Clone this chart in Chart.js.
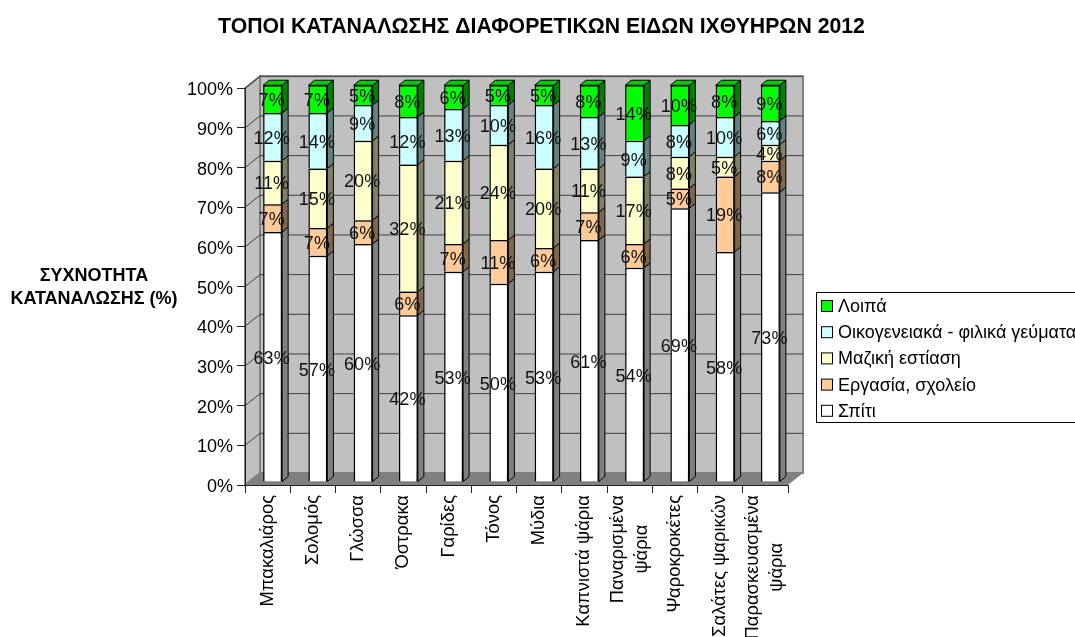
<!DOCTYPE html>
<html lang="el">
<head>
<meta charset="utf-8">
<title>Τόποι κατανάλωσης</title>
<script src="https://cdn.jsdelivr.net/npm/chart.js@4"></script>
<style>
    body { margin: 0; background: #fff; overflow: hidden; }
    canvas { display: block; }
</style>
</head>
<body>
<canvas id="chart" width="1075" height="637"></canvas>
<script>
// --- Data ---
const categories = [
    ['Μπακαλιάρος'], ['Σολομός'], ['Γλώσσα'], ['Όστρακα'], ['Γαρίδες'], ['Τόνος'], ['Μύδια'],
    ['Καπνιστά ψάρια'], ['Παναρισμένα', 'ψάρια'], ['Ψαροκροκέτες'], ['Σαλάτες ψαρικών'], ['Παρασκευασμένα', 'ψάρια']
];
const spiti = [63, 57, 60, 42, 53, 50, 53, 61, 54, 69, 58, 73];
const ergasia = [7, 7, 6, 6, 7, 11, 6, 7, 6, 5, 19, 8];
const mazikiEstiasi = [11, 15, 20, 32, 21, 24, 20, 11, 17, 8, 5, 4];
const oikogeneiaka = [12, 14, 9, 12, 13, 10, 16, 13, 9, 8, 10, 6];
const loipa = [7, 7, 5, 8, 6, 5, 5, 8, 14, 10, 8, 9];

const chartTitle = 'ΤΟΠΟΙ ΚΑΤΑΝΑΛΩΣΗΣ ΔΙΑΦΟΡΕΤΙΚΩΝ ΕΙΔΩΝ ΙΧΘΥΗΡΩΝ 2012';
const yTitleLines = ['ΣΥΧΝΟΤΗΤΑ', 'ΚΑΤΑΝΑΛΩΣΗΣ (%)'];

// --- Look ---
const FONT = '"Liberation Sans", Arial, sans-serif';
const WALL = { dx: 15, dy: -12 };   // depth of the back wall
const BAR = { dx: 5, dy: -3 };      // bars stand a little behind the front edge
const SIDE = { dx: 6, dy: -5 };     // depth of a bar

function series(label, data, color, side, top) {
    return { label, data, backgroundColor: color, sideColor: side, topColor: top,
        borderColor: '#000', borderWidth: 1.5, clip: false };
}

function polygon(ctx, points, fill, stroke) {
    ctx.beginPath();
    points.forEach((p, i) => i ? ctx.lineTo(p[0], p[1]) : ctx.moveTo(p[0], p[1]));
    ctx.closePath();
    ctx.fillStyle = fill;
    ctx.fill();
    if (stroke) {
        ctx.strokeStyle = stroke;
        ctx.stroke();
    }
}

// --- Walls and floor behind everything ---
const wallsPlugin = {
    id: 'walls',
    beforeDraw(chart) {
        const { ctx, chartArea: a, scales } = chart;
        const d = WALL;
        ctx.save();
        ctx.lineWidth = 2;
        polygon(ctx, [[a.left, a.top], [a.left + d.dx, a.top + d.dy], [a.left + d.dx, a.bottom + d.dy], [a.left, a.bottom]], '#c0c0c0', '#808080');
        polygon(ctx, [[a.left + d.dx, a.top + d.dy], [a.right + d.dx, a.top + d.dy], [a.right + d.dx, a.bottom + d.dy], [a.left + d.dx, a.bottom + d.dy]], '#c0c0c0', '#808080');
        ctx.lineWidth = 1;
        polygon(ctx, [[a.left, a.bottom], [a.left + d.dx, a.bottom + d.dy], [a.right + d.dx, a.bottom + d.dy], [a.right, a.bottom]], '#808080');
        ctx.strokeStyle = '#404040';
        scales.y.ticks.forEach(t => {
            if (t.value === 0) return;
            const y = scales.y.getPixelForValue(t.value);
            ctx.beginPath();
            ctx.moveTo(a.left, y);
            ctx.lineTo(a.left + d.dx, y + d.dy);
            ctx.lineTo(a.right + d.dx, y + d.dy);
            ctx.stroke();
        });
        ctx.restore();
    }
};

// --- Bar sides, shifted fronts and value labels ---
const barsPlugin = {
    id: 'bars3d',
    beforeDatasetsDraw(chart) {
        const { ctx } = chart;
        ctx.save();
        ctx.translate(BAR.dx, BAR.dy);
        ctx.lineWidth = 1;
        const last = chart.data.datasets.length - 1;
        chart.data.datasets.forEach((ds, i) => {
            chart.getDatasetMeta(i).data.forEach(bar => {
                const r = bar.x + bar.width / 2;
                const l = bar.x - bar.width / 2;
                polygon(ctx, [[r, bar.y], [r + SIDE.dx, bar.y + SIDE.dy], [r + SIDE.dx, bar.base + SIDE.dy], [r, bar.base]], ds.sideColor, '#000');
                if (i === last) {
                    polygon(ctx, [[l, bar.y], [l + SIDE.dx, bar.y + SIDE.dy], [r + SIDE.dx, bar.y + SIDE.dy], [r, bar.y]], ds.topColor, '#000');
                }
            });
        });
    },
    afterDatasetsDraw(chart) {
        const { ctx } = chart;
        ctx.fillStyle = '#111';
        ctx.font = '18px ' + FONT;
        ctx.textAlign = 'center';
        ctx.textBaseline = 'middle';
        chart.data.datasets.forEach((ds, i) => {
            chart.getDatasetMeta(i).data.forEach((bar, j) => {
                ctx.fillText(ds.data[j] + '%', bar.x - 1, (bar.y + bar.base) / 2 + 2);
            });
        });
        ctx.restore();
    }
};

// --- Text the chart options cannot place: category labels, y title, legend ---
const textPlugin = {
    id: 'extraText',
    afterDraw(chart) {
        const { ctx, scales } = chart;
        ctx.save();
        ctx.fillStyle = '#000';

        // rotated category labels, centred line by line like the original
        ctx.font = '18.4px ' + FONT;
        ctx.textBaseline = 'middle';
        ctx.textAlign = 'center';
        categories.forEach((lines, i) => {
            const x = scales.x.getPixelForValue(i);
            const longest = Math.max(...lines.map(s => ctx.measureText(s).width));
            lines.forEach((line, k) => {
                ctx.save();
                ctx.translate(x + (k - (lines.length - 1) / 2) * 24, 495 + longest / 2);
                ctx.rotate(-Math.PI / 2);
                ctx.fillText(line, 0, 0);
                ctx.restore();
            });
        });

        // y axis title
        ctx.font = 'bold 18px ' + FONT;
        yTitleLines.forEach((line, k) => ctx.fillText(line, 94, 276 + k * 23));

        // legend box, runs off the right edge of the picture as in the original
        ctx.lineWidth = 1;
        ctx.strokeStyle = '#000';
        ctx.fillStyle = '#fff';
        ctx.fillRect(816.5, 292.5, 300, 130);
        ctx.strokeRect(816.5, 292.5, 300, 130);
        ctx.font = '18px ' + FONT;
        ctx.textAlign = 'left';
        chart.data.datasets.slice().reverse().forEach((ds, k) => {
            const y = 306 + k * 26.2;
            ctx.fillStyle = ds.backgroundColor;
            ctx.fillRect(821.5, y - 5.5, 11, 11);
            ctx.strokeRect(821.5, y - 5.5, 11, 11);
            ctx.fillStyle = '#000';
            ctx.fillText(ds.label, 838, y + 1);
        });
        ctx.restore();
    }
};

new Chart(document.getElementById('chart'), {
    type: 'bar',
    data: {
        labels: categories.map(c => c.join(' ')),
        datasets: [
            series('Σπίτι', spiti, '#ffffff', '#808080', '#cccccc'),
            series('Εργασία, σχολείο', ergasia, '#ffcc99', '#80664d', '#cca37a'),
            series('Μαζική εστίαση', mazikiEstiasi, '#ffffcc', '#808066', '#cccca3'),
            series('Οικογενειακά - φιλικά γεύματα', oikogeneiaka, '#ccffff', '#668080', '#a3cccc'),
            series('Λοιπά', loipa, '#00ff00', '#008000', '#00cc00')
        ]
    },
    options: {
        responsive: false,
        animation: false,
        events: [],
        layout: { padding: { left: 8 } },
        categoryPercentage: 1,
        barPercentage: 0.42,
        plugins: {
            legend: { display: false },
            tooltip: { enabled: false },
            title: {
                display: true,
                text: chartTitle,
                color: '#000',
                font: { family: FONT, size: 21.25, weight: 'bold', lineHeight: 1 },
                padding: { top: 17, bottom: 50 }
            }
        },
        scales: {
            x: {
                stacked: true,
                ticks: { display: false },
                grid: { drawOnChartArea: false, tickLength: 8, color: '#222', offset: true },
                border: { color: '#222' },
                afterFit(scale) { scale.height = 152; }
            },
            y: {
                stacked: true,
                min: 0,
                max: 100,
                ticks: {
                    stepSize: 10,
                    padding: 4,
                    labelOffset: 2,
                    color: '#000',
                    font: { family: FONT, size: 18 },
                    callback: v => v + '%'
                },
                grid: { drawOnChartArea: false, tickLength: 8, color: '#222' },
                border: { color: '#222' },
                afterFit(scale) { scale.width = 237; }
            },
            // empty axis that keeps the room for the legend on the right
            pad: {
                position: 'right',
                ticks: { display: false },
                grid: { display: false },
                border: { display: false },
                afterFit(scale) { scale.width = 287; }
            }
        }
    },
    plugins: [wallsPlugin, barsPlugin, textPlugin]
});
</script>
</body>
</html>
